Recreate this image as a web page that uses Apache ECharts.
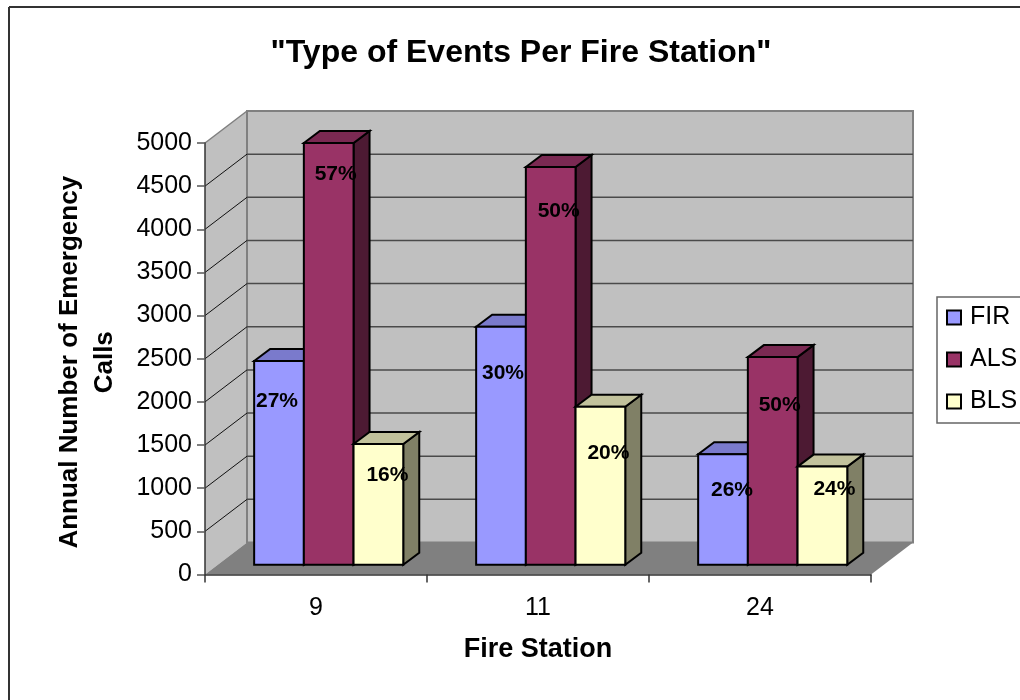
<!DOCTYPE html>
<html>
<head>
<meta charset="utf-8">
<style>html,body{margin:0;padding:0;background:#fff}#chart{width:1020px;height:700px}</style>
<script src="https://cdn.jsdelivr.net/npm/echarts@6/dist/echarts.min.js"></script>
</head>
<body>
<div id="chart"></div>
<script>
// Annual emergency calls per fire station, by event type
const stations = ['9', '11', '24'];
const firCalls = [2361, 2758, 1281];
const alsCalls = [4888, 4610, 2407];
const blsCalls = [1400, 1832, 1138];
const firShare = ['27%', '30%', '26%'];
const alsShare = ['57%', '50%', '50%'];
const blsShare = ['16%', '20%', '24%'];
const yTicks = [0, 500, 1000, 1500, 2000, 2500, 3000, 3500, 4000, 4500, 5000];

// Pseudo-3D projection, in pixels
const WALL_DX = 42, WALL_DY = 32;     // depth of the floor and side wall
const BAR_DX = 12.7, BAR_DY = 9.7;    // how far the bars sit behind the front edge
const SIDE_DX = 16, SIDE_DY = 12;     // depth of each bar
const BAR_W = 49.7;
const FONT = '"Liberation Sans", Arial, sans-serif';

function poly(points, fill, stroke, width) {
  return { type: 'polygon', shape: { points }, style: { fill, stroke, lineWidth: width, lineJoin: 'miter' } };
}
function seg(x1, y1, x2, y2, stroke, width) {
  return { type: 'line', shape: { x1, y1, x2, y2 }, style: { stroke, lineWidth: width } };
}

// Side wall, back wall, floor and their gridlines
function renderWalls(params, api) {
  const c = params.coordSys;
  const l = c.x, r = c.x + c.width, t = c.y, b = c.y + c.height;
  const kids = [
    poly([[l, t], [l + WALL_DX, t - WALL_DY], [l + WALL_DX, b - WALL_DY], [l, b]], '#c0c0c0', null, 0),
    poly([[l + WALL_DX, t - WALL_DY], [r + WALL_DX, t - WALL_DY], [r + WALL_DX, b - WALL_DY], [l + WALL_DX, b - WALL_DY]], '#c0c0c0', '#808080', 2),
    poly([[l, b], [l + WALL_DX, b - WALL_DY], [r + WALL_DX, b - WALL_DY], [r, b]], '#808080', null, 0),
    seg(l, t, l + WALL_DX, t - WALL_DY, '#808080', 1.5)
  ];
  yTicks.slice(1, -1).forEach(v => {
    const y = api.coord([0, v])[1];
    kids.push(seg(l, y, l + WALL_DX, y - WALL_DY, '#111', 1));
    kids.push(seg(l + WALL_DX, y - WALL_DY, r + WALL_DX, y - WALL_DY, '#4a4a4a', 1.5));
  });
  return { type: 'group', children: kids };
}

// One box: front face plus top and right faces
function boxRenderer(slot, front, top, side) {
  return function (params, api) {
    const p = api.coord([api.value(0), api.value(1)]);
    const base = api.coord([api.value(0), 0]);
    const x0 = p[0] + BAR_DX + (slot - 1.5) * BAR_W;
    const x1 = x0 + BAR_W;
    const yt = p[1] - BAR_DY, yb = base[1] - BAR_DY;
    const edge = { stroke: '#000', width: 2 };
    return {
      type: 'group',
      children: [
        poly([[x1, yt], [x1 + SIDE_DX, yt - SIDE_DY], [x1 + SIDE_DX, yb - SIDE_DY], [x1, yb]], side, edge.stroke, edge.width),
        poly([[x0, yt], [x0 + SIDE_DX, yt - SIDE_DY], [x1 + SIDE_DX, yt - SIDE_DY], [x1, yt]], top, edge.stroke, edge.width),
        poly([[x0, yt], [x1, yt], [x1, yb], [x0, yb]], front, edge.stroke, edge.width)
      ]
    };
  };
}

// Share labels were placed by hand on each bar: [dx, dy] from the middle of the front-top edge
const labelNudges = [
  [[-2, 40.5], [2, 46.5], [9, 35.5]],
  [[7, 31.5], [8, 44.5], [7, 48.5]],
  [[9, 31.5], [8, 46.5], [12, 22.5]]
];
function labelRenderer(slot, texts) {
  return function (params, api) {
    const i = api.value(0);
    const p = api.coord([i, api.value(1)]);
    const n = labelNudges[slot][i];
    return {
      type: 'text',
      style: {
        text: texts[i],
        x: p[0] + BAR_DX + (slot - 1) * BAR_W + n[0],
        y: p[1] - BAR_DY + n[1],
        fill: '#000',
        font: 'bold 21px ' + FONT,
        textAlign: 'center',
        textVerticalAlign: 'middle'
      }
    };
  };
}

const rows = vals => vals.map((v, i) => [i, v]);
const barSeries = (name, vals, slot, front, top, side) => ({
  name, type: 'custom', data: rows(vals), z: 3 + slot, silent: true,
  encode: { x: 0, y: 1 }, itemStyle: { color: front },
  renderItem: boxRenderer(slot, front, top, side)
});
const labelSeries = (vals, slot, texts) => ({
  type: 'custom', data: rows(vals), z: 10, silent: true,
  encode: { x: 0, y: 1 }, renderItem: labelRenderer(slot, texts)
});

const chart = echarts.init(document.getElementById('chart'), null, { renderer: 'canvas' });
chart.setOption({
  animation: false,
  backgroundColor: '#fff',
  title: {
    text: '"Type of Events Per Fire Station"',
    left: 516, top: 32, textAlign: 'center',
    textStyle: { fontFamily: FONT, fontWeight: 'bold', fontSize: 32, color: '#000' }
  },
  legend: {
    orient: 'vertical', left: 937, top: 297,
    padding: [8, 20, 9, 9], itemWidth: 14, itemHeight: 14, itemGap: 17,
    borderColor: '#666', borderWidth: 1.5,
    textStyle: { fontFamily: FONT, fontSize: 25, color: '#000', padding: [0, 0, 0, 4] },
    data: [
      { name: 'FIR', icon: 'rect', itemStyle: { color: '#9999ff', borderColor: '#000', borderWidth: 2 } },
      { name: 'ALS', icon: 'rect', itemStyle: { color: '#993366', borderColor: '#000', borderWidth: 2 } },
      { name: 'BLS', icon: 'rect', itemStyle: { color: '#ffffcc', borderColor: '#000', borderWidth: 2 } }
    ]
  },
  grid: { left: 205, right: 149, top: 143, bottom: 125.5 },
  xAxis: {
    type: 'category', data: stations, z: 2,
    axisLine: { lineStyle: { color: '#333', width: 1.5 } },
    axisTick: { show: true, alignWithLabel: false, length: 8, lineStyle: { color: '#333', width: 1.5 } },
    axisLabel: { fontFamily: FONT, fontSize: 25, color: '#000', margin: 21 },
    splitLine: { show: false },
    name: 'Fire Station', nameLocation: 'middle', nameGap: 62,
    nameTextStyle: { fontFamily: FONT, fontWeight: 'bold', fontSize: 27, color: '#000' }
  },
  yAxis: {
    type: 'value', min: 0, max: 5000, interval: 500, z: 2,
    axisLine: { show: true, lineStyle: { color: '#333', width: 1.5 } },
    axisTick: { show: true, length: 8, lineStyle: { color: '#555', width: 1.5 } },
    axisLabel: { fontFamily: FONT, fontSize: 25, color: '#000', margin: 13, formatter: v => String(v) },
    splitLine: { show: false },
    name: 'Annual Number of Emergency\nCalls', nameLocation: 'middle', nameGap: 83, nameRotate: 90,
    nameTextStyle: { fontFamily: FONT, fontWeight: 'bold', fontSize: 26, color: '#000', lineHeight: 35, padding: [0, 7, 0, 0] }
  },
  graphic: [
    { type: 'line', z: 0, shape: { x1: 9, y1: 7, x2: 1020, y2: 7 }, style: { stroke: '#333', lineWidth: 2 } },
    { type: 'line', z: 0, shape: { x1: 9, y1: 7, x2: 9, y2: 700 }, style: { stroke: '#333', lineWidth: 2 } }
  ],
  series: [
    { type: 'custom', data: [[0, 0]], z: 1, silent: true, encode: { x: 0, y: 1 }, renderItem: renderWalls },
    barSeries('FIR', firCalls, 0, '#9999ff', '#7a7acc', '#4d4d80'),
    barSeries('ALS', alsCalls, 1, '#993366', '#7a2952', '#4d1a33'),
    barSeries('BLS', blsCalls, 2, '#ffffcc', '#c2c29c', '#808066'),
    labelSeries(firCalls, 0, firShare),
    labelSeries(alsCalls, 1, alsShare),
    labelSeries(blsCalls, 2, blsShare)
  ]
});
</script>
</body>
</html>
